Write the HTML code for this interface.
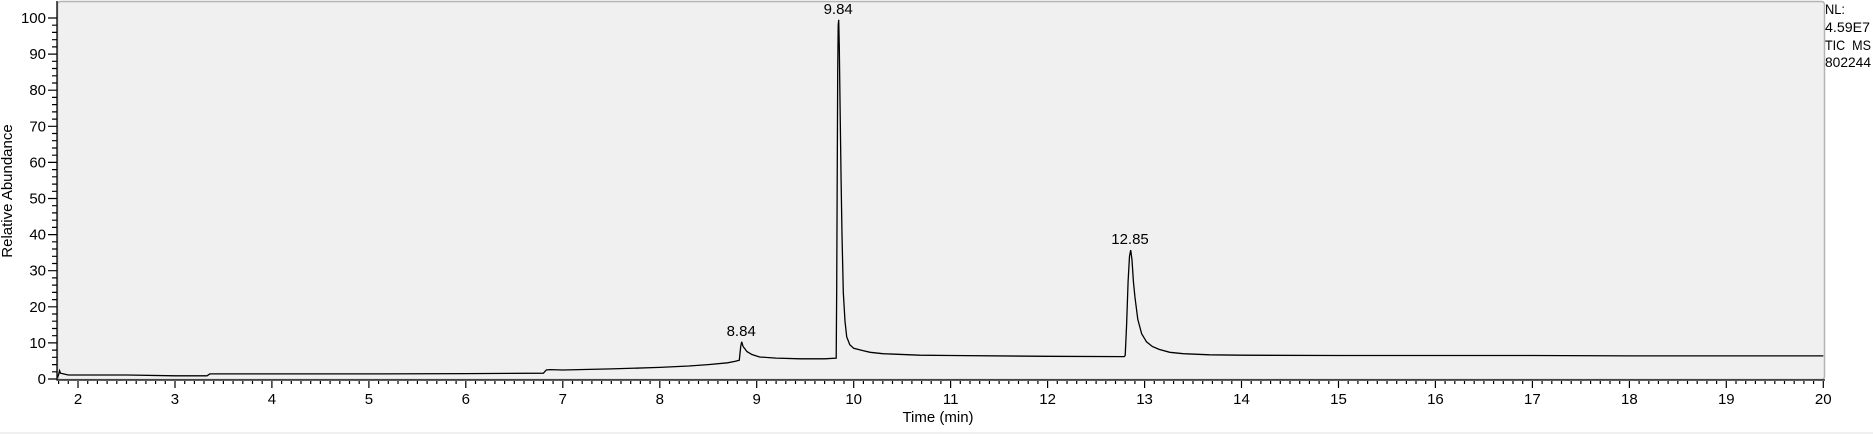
<!DOCTYPE html>
<html><head><meta charset="utf-8"><style>
html,body{margin:0;padding:0;background:#fff;width:1873px;height:434px;overflow:hidden}
svg{display:block;font-family:"Liberation Sans",Arial,sans-serif}
</style></head><body>
<svg id="chart" width="1873" height="434">
<rect x="0" y="432" width="1873" height="2" fill="#f0f0f0"/>
<rect x="57.5" y="1.5" width="1767" height="378" fill="#f0f0f0" stroke="#b4b4b4" stroke-width="1.5" rx="3"/>
<g id="axes"></g>
<path id="trace" fill="none" stroke="#000" stroke-width="1.3"/>
<g id="labels"></g>
<text x="12" y="191" font-size="15" text-anchor="middle" transform="rotate(-90 12 191)" fill="#000">Relative Abundance</text>
<text x="938" y="422" font-size="15" text-anchor="middle" fill="#000">Time (min)</text>
<g font-size="14" fill="#000">
<text x="1825" y="14" textLength="20" lengthAdjust="spacingAndGlyphs">NL:</text>
<text x="1825" y="32" textLength="45" lengthAdjust="spacingAndGlyphs">4.59E7</text>
<text x="1825" y="50" textLength="46" lengthAdjust="spacingAndGlyphs" xml:space="preserve">TIC  MS</text>
<text x="1825" y="67" textLength="46" lengthAdjust="spacingAndGlyphs">802244</text>
</g>
</svg>
<script>
const times = [1.79,1.80,1.81,1.82,1.85,1.9,2.5,3.0,3.33,3.36,4.0,5.0,6.0,6.8,6.83,6.87,7.0,7.5,8.0,8.3,8.5,8.7,8.78,8.82,8.835,8.845,8.86,8.9,8.95,9.03,9.2,9.45,9.7,9.82,9.825,9.83,9.835,9.84,9.846,9.852,9.86,9.87,9.88,9.893,9.91,9.928,9.96,10.0,10.1,10.17,10.3,10.68,11.0,12.0,12.79,12.8,12.815,12.83,12.845,12.857,12.87,12.885,12.9,12.93,12.97,13.02,13.08,13.15,13.26,13.4,13.67,14,15,16,17,18,19,20];
const abund = [0.4,1.2,2.3,1.6,1.4,1.1,1.1,0.9,0.9,1.4,1.4,1.4,1.5,1.6,2.5,2.6,2.5,2.8,3.2,3.6,4.0,4.5,4.9,5.2,9.0,10.3,9.0,7.6,6.8,6.1,5.8,5.6,5.6,5.8,25,55,85,98,99.5,92,75,55,40,24,16,11.7,9.5,8.5,7.8,7.4,7.0,6.6,6.5,6.3,6.2,6.5,15,27,34,35.7,33,27,22.8,16.5,12.5,10.3,9.0,8.2,7.4,7.0,6.7,6.6,6.5,6.5,6.5,6.4,6.4,6.4];
const xTicks = [2,3,4,5,6,7,8,9,10,11,12,13,14,15,16,17,18,19,20];
const yTicks = [0,10,20,30,40,50,60,70,80,90,100];
const peakTimes = [8.84,9.84,12.85];
const peakLabels = ["8.84","9.84","12.85"];
const peakHeights = [10.3,99.5,35.7];

const X = t => 78 + (t - 2) * 96.96;
const Y = v => 379 - v * 3.61;
const NS = "http://www.w3.org/2000/svg";
const axes = document.getElementById('axes');
function el(tag, attrs, parent){const e=document.createElementNS(NS,tag);for(const k in attrs)e.setAttribute(k,attrs[k]);parent.appendChild(e);return e;}

const ax = el('path',{d:'M57,1 V380 H1825',stroke:'#000','stroke-width':1.3,fill:'none'},axes);



let d='';
for(let i=18;i<=200;i++){const t=i/10;const x=X(t);if(x<58||x>1825)continue;const major=i%10===0;d+=`M${x.toFixed(1)},381V${major?388:384}`;}
const xt=el('path',{d:d,stroke:'#000','stroke-width':1.2},axes);


xTicks.forEach(t=>{const tx=el('text',{x:X(t),y:404,'font-size':15,'text-anchor':'middle'},axes);tx.textContent=t;

});

d='';
for(let v=0;v<=100;v+=2){const y=Y(v);d+=`M${v%10===0?48:52},${y.toFixed(1)}H57`;}
const yt=el('path',{d:d,stroke:'#000','stroke-width':1.2},axes);


yTicks.forEach(v=>{const tx=el('text',{x:46,y:Y(v)+5,'font-size':15,'text-anchor':'end'},axes);tx.textContent=v;

});

document.getElementById('trace').setAttribute('d', times.map((t,i)=>(i?'L':'M')+X(t).toFixed(1)+','+Y(abund[i]).toFixed(1)).join(''));

const lab=document.getElementById('labels');
peakTimes.forEach((t,i)=>{const tx=el('text',{x:X(t),y:Y(peakHeights[i])-6,'font-size':15,'text-anchor':'middle'},lab);tx.textContent=peakLabels[i];

});
</script>
</body></html>
